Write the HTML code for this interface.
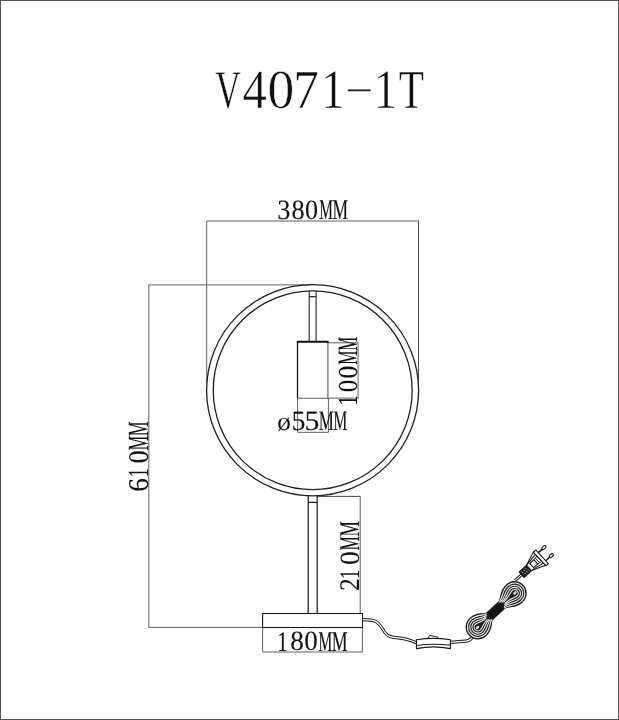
<!DOCTYPE html>
<html><head><meta charset="utf-8"><title>V4071-1T</title>
<style>
html,body{margin:0;padding:0;background:#fff;}
body{width:619px;height:720px;overflow:hidden;font-family:"Liberation Serif",serif;}
svg{display:block;position:absolute;left:0;top:0;will-change:transform;filter:grayscale(1);}
svg text{font-family:"Liberation Serif",serif;font-size:100px;text-rendering:geometricPrecision;}
.d{stroke:#606060;stroke-width:1;fill:none;}
.k{stroke:#1e1e1e;stroke-width:1.3;fill:none;}
</style></head>
<body>
<svg width="619" height="720" viewBox="0 0 619 720">
<rect x="0" y="0" width="619" height="720" fill="#fff"/>
<rect x="0.5" y="0.5" width="618" height="719" fill="none" stroke="#555" stroke-width="1"/>

<!-- title -->
<g id="title">
<text transform="matrix(0.3530 0 0 0.5448 215.254 107.625)" fill="#111" stroke="#fff" stroke-width="0.9" vector-effect="non-scaling-stroke">V</text>
<text transform="matrix(0.4883 0 0 0.5515 242.596 108.050)" fill="#111" stroke="#fff" stroke-width="0.9" vector-effect="non-scaling-stroke">4</text>
<text transform="matrix(0.5356 0 0 0.5513 267.410 107.912)" fill="#111" stroke="#fff" stroke-width="0.9" vector-effect="non-scaling-stroke">0</text>
<text transform="matrix(0.5132 0 0 0.5498 293.167 108.050)" fill="#111" stroke="#fff" stroke-width="0.9" vector-effect="non-scaling-stroke">7</text>
<text transform="matrix(0.4658 0 0 0.5574 321.356 108.050)" fill="#111" stroke="#fff" stroke-width="0.9" vector-effect="non-scaling-stroke">1</text>
<text transform="matrix(0.8777 0 0 0.2409 344.443 95.676)" fill="#222">-</text>
<text transform="matrix(0.4658 0 0 0.5574 373.856 108.050)" fill="#111" stroke="#fff" stroke-width="0.9" vector-effect="non-scaling-stroke">1</text>
<text transform="matrix(0.4131 0 0 0.5498 398.804 108.050)" fill="#111" stroke="#fff" stroke-width="0.9" vector-effect="non-scaling-stroke">T</text>
</g>

<!-- dimension lines -->
<g class="d">
 <!-- 380 -->
 <path d="M206.7 382V221H418.5"/><path d="M418.5 220.5V382" stroke="#4a4a4a"/>
 <!-- 610 -->
 <path d="M311 284.9H148.8V627.4H262.6"/>
 <!-- 100 -->
 <path d="M327.9 342.8H358.6M327.9 398.1H358.6M358.1 342.8V398.1"/>
 <!-- 55 -->
 <path d="M297.6 398V432.3H328.4V398"/>
 <!-- 210 -->
 <path d="M317.3 496.4H360.2" stroke="#484848"/><path d="M360.2 496V613"/>
 <!-- 180 -->
 <path d="M262.6 627.5V652H362.4V627.5"/>
</g>

<!-- dimension text -->
<g id="dimtext">
<text transform="matrix(0.2639 0 0 0.2798 277.137 219.177)" fill="#111" stroke="#111" stroke-width="0.3" vector-effect="non-scaling-stroke">3</text>
<text transform="matrix(0.2631 0 0 0.2786 291.498 219.178)" fill="#111" stroke="#111" stroke-width="0.3" vector-effect="non-scaling-stroke">8</text>
<text transform="matrix(0.2607 0 0 0.2786 305.057 219.178)" fill="#111" stroke="#111" stroke-width="0.3" vector-effect="non-scaling-stroke">0</text>
<text transform="matrix(0.1546 0 0 0.2848 319.280 219.375)" fill="#111" stroke="#111" stroke-width="0.45" vector-effect="non-scaling-stroke">M</text>
<text transform="matrix(0.1751 0 0 0.2848 332.521 219.375)" fill="#111" stroke="#111" stroke-width="0.45" vector-effect="non-scaling-stroke">M</text>
<text transform="matrix(0.2810 0 0 0.2574 276.990 430.094)" fill="#111" stroke="#fff" stroke-width="0.3" vector-effect="non-scaling-stroke">ø</text>
<text transform="matrix(0.2805 0 0 0.2799 291.420 429.777)" fill="#111" stroke="#111" stroke-width="0.3" vector-effect="non-scaling-stroke">5</text>
<text transform="matrix(0.2979 0 0 0.2799 304.419 429.777)" fill="#111" stroke="#111" stroke-width="0.3" vector-effect="non-scaling-stroke">5</text>
<text transform="matrix(0.1703 0 0 0.2818 318.734 429.975)" fill="#111" stroke="#111" stroke-width="0.45" vector-effect="non-scaling-stroke">M</text>
<text transform="matrix(0.1546 0 0 0.2818 333.380 429.975)" fill="#111" stroke="#111" stroke-width="0.45" vector-effect="non-scaling-stroke">M</text>
<text transform="matrix(0.2102 0 0 0.2848 277.253 650.650)" fill="#111" stroke="#111" stroke-width="0.3" vector-effect="non-scaling-stroke">1</text>
<text transform="matrix(0.2713 0 0 0.2786 290.317 650.378)" fill="#111" stroke="#111" stroke-width="0.3" vector-effect="non-scaling-stroke">8</text>
<text transform="matrix(0.2702 0 0 0.2786 304.371 650.378)" fill="#111" stroke="#111" stroke-width="0.3" vector-effect="non-scaling-stroke">0</text>
<text transform="matrix(0.1546 0 0 0.2848 318.580 650.575)" fill="#111" stroke="#111" stroke-width="0.45" vector-effect="non-scaling-stroke">M</text>
<text transform="matrix(0.1775 0 0 0.2848 331.814 650.575)" fill="#111" stroke="#111" stroke-width="0.45" vector-effect="non-scaling-stroke">M</text>
<g transform="translate(357.2 0) rotate(-90)">
<text transform="matrix(0.2116 0 0 0.2802 -405.660 -0.150)" fill="#111" stroke="#111" stroke-width="0.3" vector-effect="non-scaling-stroke">1</text>
</g>
<g transform="translate(357.2 0) rotate(-90)">
<text transform="matrix(0.2477 0 0 0.2742 -392.144 -0.418)" fill="#111" stroke="#111" stroke-width="0.3" vector-effect="non-scaling-stroke">0</text>
</g>
<g transform="translate(357.2 0) rotate(-90)">
<text transform="matrix(0.2584 0 0 0.2742 -378.384 -0.418)" fill="#111" stroke="#111" stroke-width="0.3" vector-effect="non-scaling-stroke">0</text>
</g>
<g transform="translate(357.2 0) rotate(-90)">
<text transform="matrix(0.1624 0 0 0.2802 -364.793 -0.225)" fill="#111" stroke="#111" stroke-width="0.45" vector-effect="non-scaling-stroke">M</text>
</g>
<g transform="translate(357.2 0) rotate(-90)">
<text transform="matrix(0.1576 0 0 0.2802 -350.829 -0.225)" fill="#111" stroke="#111" stroke-width="0.45" vector-effect="non-scaling-stroke">M</text>
</g>
<g transform="translate(359.07 0) rotate(-90)">
<text transform="matrix(0.2495 0 0 0.2835 -590.746 -0.150)" fill="#111" stroke="#111" stroke-width="0.3" vector-effect="non-scaling-stroke">2</text>
</g>
<g transform="translate(359.07 0) rotate(-90)">
<text transform="matrix(0.1790 0 0 0.2843 -578.823 -0.150)" fill="#111" stroke="#111" stroke-width="0.3" vector-effect="non-scaling-stroke">1</text>
</g>
<g transform="translate(359.07 0) rotate(-90)">
<text transform="matrix(0.2784 0 0 0.2782 -564.910 -0.422)" fill="#111" stroke="#111" stroke-width="0.3" vector-effect="non-scaling-stroke">0</text>
</g>
<g transform="translate(359.07 0) rotate(-90)">
<text transform="matrix(0.1624 0 0 0.2844 -550.543 -0.225)" fill="#111" stroke="#111" stroke-width="0.45" vector-effect="non-scaling-stroke">M</text>
</g>
<g transform="translate(359.07 0) rotate(-90)">
<text transform="matrix(0.1727 0 0 0.2844 -536.622 -0.225)" fill="#111" stroke="#111" stroke-width="0.45" vector-effect="non-scaling-stroke">M</text>
</g>
<g transform="translate(148.4 0) rotate(-90)">
<text transform="matrix(0.2727 0 0 0.2865 -491.672 -0.430)" fill="#111" stroke="#111" stroke-width="0.3" vector-effect="non-scaling-stroke">6</text>
</g>
<g transform="translate(148.4 0) rotate(-90)">
<text transform="matrix(0.1889 0 0 0.2916 -477.410 -0.150)" fill="#111" stroke="#111" stroke-width="0.3" vector-effect="non-scaling-stroke">1</text>
</g>
<g transform="translate(148.4 0) rotate(-90)">
<text transform="matrix(0.2643 0 0 0.2853 -463.506 -0.429)" fill="#111" stroke="#111" stroke-width="0.3" vector-effect="non-scaling-stroke">0</text>
</g>
<g transform="translate(148.4 0) rotate(-90)">
<text transform="matrix(0.1655 0 0 0.2917 -450.252 -0.225)" fill="#111" stroke="#111" stroke-width="0.45" vector-effect="non-scaling-stroke">M</text>
</g>
<g transform="translate(148.4 0) rotate(-90)">
<text transform="matrix(0.1655 0 0 0.2917 -436.052 -0.225)" fill="#111" stroke="#111" stroke-width="0.45" vector-effect="non-scaling-stroke">M</text>
</g>
</g>

<!-- lamp -->
<g class="k">
 <ellipse cx="312.6" cy="390.25" rx="106.0" ry="105.55"/>
 <ellipse cx="312.7" cy="390.3" rx="99.45" ry="99.4"/>
 <!-- upper stem -->
 <path d="M309.2 291V341.5M316.1 291V341.5M309.2 296.6H316.1" stroke="#2e2e2e" stroke-width="1.15"/>
 <!-- socket -->
 <path d="M297.5 341.9V398.2" stroke="#151515" stroke-width="1.3"/>
 <path d="M297.5 398.2H327.9V341.9" stroke="#5a5a5a" stroke-width="1.1"/>
 <path d="M296.8 341.8H328.6" stroke-width="2.1" stroke="#0c0c0c"/>
 <!-- lower stem -->
 <path d="M308.2 496V613M317.2 496V613M308.2 502.3H317.2" stroke="#202020" stroke-width="1.25"/>
 <!-- base -->
 <rect x="262.6" y="613.5" width="99.9" height="14" stroke="#161616" stroke-width="1.1"/>
</g>

<!-- cord -->
<g fill="none" stroke-linecap="butt">
 <path id="c1" d="M362.9 619.7C367 619.7 372.4 619.6 376 621.6C380.6 624.2 382.6 629.5 384.8 632.4C387 635.4 388.6 636.7 392.4 637.2C398 637.9 404 638.2 409 640C412 641 414.5 642 416.7 642.9" stroke="#1c1c1c" stroke-width="3.2"/>
 <path d="M362.9 619.7C367 619.7 372.4 619.6 376 621.6C380.6 624.2 382.6 629.5 384.8 632.4C387 635.4 388.6 636.7 392.4 637.2C398 637.9 404 638.2 409 640C412 641 414.5 642 416.7 642.9" stroke="#fff" stroke-width="1.25"/>
 <path d="M450.4 642.4C457 641.7 463 641.4 467.2 640.8C470.6 640.3 472.3 638.6 472.9 634.6" stroke="#1c1c1c" stroke-width="3.2"/>
 <path d="M450.4 642.4C457 641.7 463 641.4 467.2 640.8C470.6 640.3 472.3 638.6 472.9 634.6" stroke="#fff" stroke-width="1.25"/>
</g>
<g fill="none" stroke="#1a1a1a" stroke-width="1.15">
 <!-- switch -->
 <path d="M416.5 639.7Q433.4 636.9 450.4 639.7V648.6Q433.4 645 416.5 648.6Z" fill="#fff"/>
 <path d="M416.5 645.5Q433.4 643.2 450.4 645.3"/>
 <path d="M427.8 638.1L429.8 635.3L438.5 637.3" stroke-width="1"/>
</g>

<!-- coil -->
<g transform="translate(495.45 610.9) rotate(-42.7)">
<path d="M7.60 -4.70C12.56 -4.94 15.63 -12.20 26.00 -12.20C32.73 -12.20 38.20 -6.73 38.20 0.00C38.20 6.73 32.73 12.20 26.00 12.20C15.63 12.20 12.56 4.94 7.60 4.70Z" fill="#1e1e1e"/>
<path d="M8.10 -3.85C14.18 -4.04 17.25 -10.30 26.00 -10.30C31.69 -10.30 36.30 -5.69 36.30 0.00C36.30 5.69 31.69 10.30 26.00 10.30C17.25 10.30 14.18 4.04 8.10 3.85" fill="none" stroke="#f2f2f2" stroke-width="1.05"/>
<path d="M9.30 -2.86C16.18 -3.00 19.12 -8.10 26.00 -8.10C30.47 -8.10 34.10 -4.47 34.10 0.00C34.10 4.47 30.47 8.10 26.00 8.10C19.12 8.10 16.18 3.00 9.30 2.86" fill="none" stroke="#f2f2f2" stroke-width="1.05"/>
<path d="M10.50 -1.87C18.18 -1.96 20.98 -5.90 26.00 -5.90C29.26 -5.90 31.90 -3.26 31.90 0.00C31.90 3.26 29.26 5.90 26.00 5.90C20.98 5.90 18.18 1.96 10.50 1.87" fill="none" stroke="#f2f2f2" stroke-width="1.05"/>
<path d="M11.70 -0.88C20.18 -0.92 22.86 -3.70 26.00 -3.70C28.04 -3.70 29.70 -2.04 29.70 0.00C29.70 2.04 28.04 3.70 26.00 3.70C22.86 3.70 20.18 0.92 11.70 0.88" fill="none" stroke="#f2f2f2" stroke-width="1.05"/>
<ellipse cx="26.50" cy="0" rx="2.1" ry="1.3" fill="#ddd"/>
<path d="M-7.60 -4.70C-10.80 -4.94 -13.44 -12.30 -23.90 -12.30C-30.69 -12.30 -36.20 -6.79 -36.20 0.00C-36.20 6.79 -30.69 12.30 -23.90 12.30C-13.44 12.30 -10.80 4.94 -7.60 4.70Z" fill="#1e1e1e"/>
<path d="M-8.10 -3.85C-12.42 -4.04 -15.06 -10.40 -23.90 -10.40C-29.64 -10.40 -34.30 -5.74 -34.30 0.00C-34.30 5.74 -29.64 10.40 -23.90 10.40C-15.06 10.40 -12.42 4.04 -8.10 3.85" fill="none" stroke="#f2f2f2" stroke-width="1.05"/>
<path d="M-9.30 -2.86C-14.42 -3.00 -16.93 -8.20 -23.90 -8.20C-28.43 -8.20 -32.10 -4.53 -32.10 0.00C-32.10 4.53 -28.43 8.20 -23.90 8.20C-16.93 8.20 -14.42 3.00 -9.30 2.86" fill="none" stroke="#f2f2f2" stroke-width="1.05"/>
<path d="M-10.50 -1.87C-16.42 -1.96 -18.80 -6.00 -23.90 -6.00C-27.21 -6.00 -29.90 -3.31 -29.90 0.00C-29.90 3.31 -27.21 6.00 -23.90 6.00C-18.80 6.00 -16.42 1.96 -10.50 1.87" fill="none" stroke="#f2f2f2" stroke-width="1.05"/>
<path d="M-11.70 -0.88C-18.42 -0.92 -20.67 -3.80 -23.90 -3.80C-26.00 -3.80 -27.70 -2.10 -27.70 0.00C-27.70 2.10 -26.00 3.80 -23.90 3.80C-20.67 3.80 -18.42 0.92 -11.70 0.88" fill="none" stroke="#f2f2f2" stroke-width="1.05"/>
<ellipse cx="-24.40" cy="0" rx="2.1" ry="1.3" fill="#ddd"/>
 <rect x="-7.9" y="-4.7" width="15.8" height="9.4" fill="#141414" stroke="#141414" stroke-width="0.5"/>
</g>

<!-- plug -->
<g transform="translate(521 575.3) rotate(-42.5)" fill="none" stroke="#141414" stroke-width="1.05">
 <path d="M-8 0H1" stroke-width="3"/><path d="M-8 0H1" stroke="#fff" stroke-width="1.1"/>
 <rect x="0.8" y="-3.6" width="10" height="7.2" fill="#242424"/>
 <path d="M3 -2.1V-0.7M5.6 -2.1V-0.7M8.2 -2.1V-0.7M4.3 0.7V2.1M6.9 0.7V2.1M9.3 0.7V2.1" stroke="#e4e4e4" stroke-width="0.85"/>
 <path d="M10.8 -3.6L24.8 -8.8V9.2L10.8 3.6Z" fill="#fff"/>
 <path d="M10.8 -3.6L24.8 -5.6M10.8 3.6L24.8 6"/>
 <rect x="14.4" y="-2.7" width="5.6" height="5.6" fill="#fff"/>
 <path d="M20 -2.7L24.8 -3.4M20 2.9L24.8 3.8M22.2 -3V3.3" stroke-width="0.9"/>
 <rect x="24.8" y="-8.7" width="3.3" height="18.6" fill="#fff"/>
 <path d="M28.1 -5H33.3M28.1 6H33.3" stroke-width="1.5"/>
 <ellipse cx="35.6" cy="-5" rx="2.5" ry="1.35" fill="#fff"/>
 <ellipse cx="35.6" cy="6" rx="2.5" ry="1.35" fill="#fff"/>
</g>
</svg>
</body></html>
